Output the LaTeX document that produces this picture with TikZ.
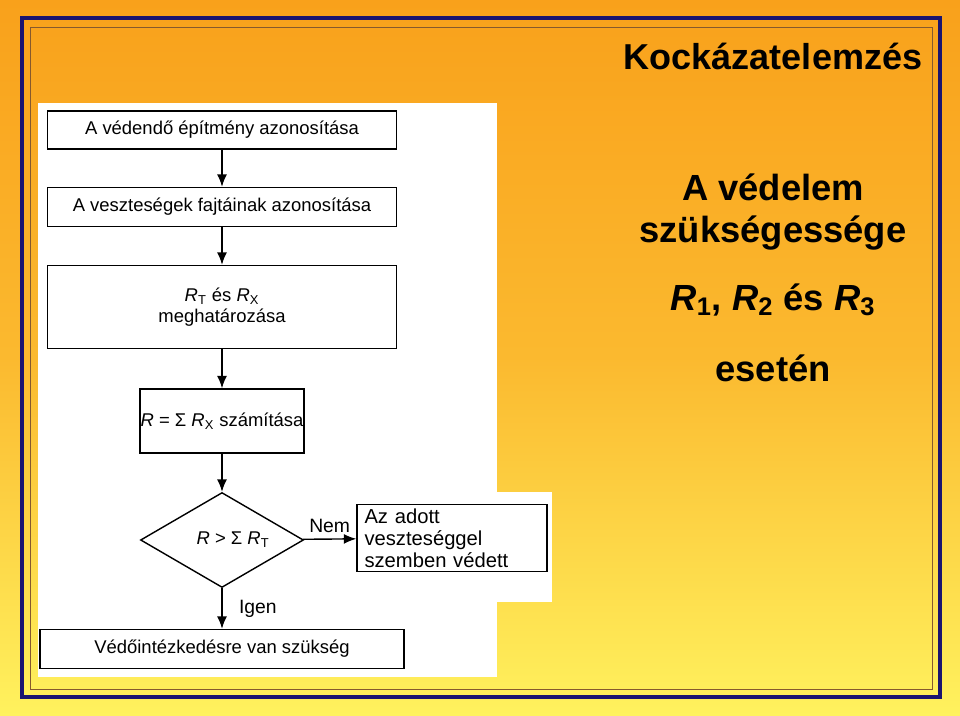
\documentclass[tikz,border=0pt]{standalone}
\usepackage{fontspec}
\setmainfont{Liberation Sans}
\usetikzlibrary{shapes.geometric,arrows.meta}
\definecolor{frameblue}{HTML}{1A1470}
\definecolor{bgorange}{HTML}{F9A11B}
\definecolor{bgyellow}{HTML}{FFF25E}
\tikzset{
  box/.style={draw, thick, fill=white, inner sep=0pt, font=\fontsize{10.5}{12}\selectfont},
  flow/.style={-{Latex[length=2.5mm,width=2mm]}, thick},
  big/.style={font=\bfseries\fontsize{20.7}{24}\selectfont}
}
\begin{document}
\begin{tikzpicture}[x=0.02cm, y=-0.02cm]
\useasboundingbox (0,0) rectangle (960,716);
% background and frame
\shade[top color=bgorange, bottom color=bgyellow, middle color=bgorange!70!bgyellow] (0,0) rectangle (960,716);
\draw[frameblue, line width=2.5pt] (22,18) rectangle (940,697);
\draw[brown!70!black, line width=0.5pt] (30,27) rectangle (932,689);
\fill[white] (38,103) rectangle (497,677);
\fill[white] (497,492) rectangle (552,602);

% boxes
\node[box, minimum width=6.98cm, minimum height=0.76cm] (epit) at (222,130) {A védendő építmény azonosítása};
\node[box, minimum width=6.98cm, minimum height=0.78cm] (fajt) at (222,207) {A veszteségek fajtáinak azonosítása};
\node[box, minimum width=6.98cm, minimum height=1.66cm, align=center] (rtrx) at (222,307) {\textit{R}\textsubscript{T} és \textit{R}\textsubscript{X}\\meghatározása};
\node[box, minimum width=3.28cm, minimum height=1.28cm] (szam) at (222,421) {\textit{R} = Σ \textit{R}\textsubscript{X} számítása};
\node[box, diamond, aspect=1.7, minimum width=3.26cm, minimum height=1.9cm] (dont) at (222,540) {\hspace{1.2em}\textit{R} > Σ \textit{R}\textsubscript{T}};
\node[box, minimum width=3.8cm, minimum height=1.34cm, text width=3.5cm, align=left, font=\fontsize{11.5}{12.5}\selectfont] (vedett) at (452,538) {Az adott\\veszteséggel\\szemben védett};
\node[box, minimum width=7.28cm, minimum height=0.78cm] (szuks) at (222,649) {Védőintézkedésre van szükség};

% arrows
\draw[flow] (epit) -- (fajt);
\draw[flow] (fajt) -- (rtrx);
\draw[flow] (rtrx) -- (szam);
\draw[flow] (szam) -- (dont);
\draw[flow] (dont) -- node[above, font=\fontsize{11}{12}\selectfont] {Nem} (vedett);
\draw[flow] (dont) -- node[right, xshift=6pt, font=\fontsize{11}{12}\selectfont] {Igen} (szuks);

% right side texts
\node[big, font=\bfseries\fontsize{20.5}{24}\selectfont] (cim) at (773,56) {Kockázatelemzés};
\node[big, align=center] (vedel) at (773,212) {A védelem\\szükségessége};
\node[big] (rek) at (773,300) {\textit{R}\textsubscript{1}, \textit{R}\textsubscript{2} és \textit{R}\textsubscript{3}};
\node[big] (eset) at (773,368) {esetén};
\end{tikzpicture}
\end{document}
